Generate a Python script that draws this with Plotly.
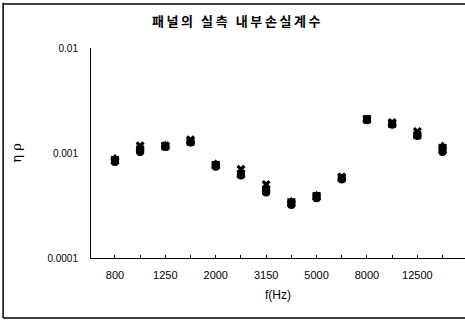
import plotly.graph_objects as go

freqs = ["800", "1000", "1250", "1600", "2000", "2500", "3150", "4000",
         "5000", "6300", "8000", "10000", "12500", "16000"]
tick_labels = ["800", "", "1250", "", "2000", "", "3150", "", "5000", "", "8000", "", "12500", ""]

series_a = [0.00086, 0.00108, 0.00116, 0.00128, 0.00077, 0.00063, 0.00044, 0.00034,
            0.00039, 0.00058, 0.00210, 0.00190, 0.00148, 0.00112]
series_b = [0.00090, 0.00110, 0.00120, 0.00127, 0.00080, 0.00062, 0.00046, 0.00035,
            0.00040, 0.00057, 0.00213, 0.00188, 0.00150, 0.00118]
series_c = [0.00084, 0.00117, 0.00117, 0.00134, 0.00076, 0.00070, 0.00050, 0.00033,
            0.00038, 0.00059, 0.00208, 0.00195, 0.00160, 0.00106]
series_d = [0.00082, 0.00102, 0.00114, 0.00126, 0.00074, 0.00061, 0.00042, 0.00032,
            0.00037, 0.00056, 0.00205, 0.00186, 0.00145, 0.00102]

y_ticks = [0.0001, 0.001, 0.01]
y_tick_text = ["0.0001", "0.001", "0.01"]

title_text = "패널의 실측 내부손실계수"

idx = list(range(len(freqs)))

fig = go.Figure()
for vals, sym in [(series_a, "square"), (series_b, "triangle-up"),
                  (series_c, "x"), (series_d, "circle")]:
    fig.add_trace(go.Scatter(
        x=idx, y=vals, mode="markers",
        marker=dict(symbol=sym, size=8, color="black", line=dict(width=0)),
        showlegend=False, hoverinfo="skip"))

spaced_title = "\u2009".join(title_text)

fig.update_layout(
    width=465, height=322,
    margin=dict(l=91, r=0, t=48, b=64),
    paper_bgcolor="white", plot_bgcolor="white",
    font=dict(family="Liberation Sans, Arial", color="black", size=11),
    title=dict(text="<b>" + spaced_title + "</b>", x=0.508, xanchor="center",
               y=0.932, yanchor="middle",
               font=dict(family="Noto Sans CJK KR", size=13, color="black")),
    xaxis=dict(range=[-0.95, 13.89], tickmode="array", tickvals=idx, ticktext=tick_labels,
               showline=True, linecolor="black", linewidth=1, showgrid=False,
               zeroline=False, ticks="inside", ticklen=3, tickcolor="black",
               ticklabelstandoff=7,
               tickfont=dict(size=11),
               title=dict(text="f(Hz)", font=dict(size=12), standoff=10)),
    yaxis=dict(type="log", range=[-4, -2], tickmode="array", tickvals=y_ticks,
               ticktext=y_tick_text, showline=True, linecolor="black", linewidth=1,
               showgrid=False, zeroline=False, ticks="", ticklabelstandoff=10,
               tickfont=dict(size=10),
               title=dict(text="η ρ", font=dict(family="DejaVu Serif", size=13), standoff=22)),
)

# outer frame: left, bottom, top edges
fig.add_shape(type="line", xref="paper", yref="paper",
              x0=-0.235, x1=-0.235, y0=-0.286, y1=1.215, line=dict(color="black", width=1.5))
fig.add_shape(type="line", xref="paper", yref="paper",
              x0=-0.235, x1=1.05, y0=-0.286, y1=-0.286, line=dict(color="black", width=1.5))
fig.add_shape(type="line", xref="paper", yref="paper",
              x0=-0.235, x1=1.05, y0=1.21, y1=1.21, line=dict(color="black", width=1.5))

fig.write_html("out.html", config={"displayModeBar": False},
               post_script="document.body.style.margin='0';document.body.style.overflow='hidden';")
